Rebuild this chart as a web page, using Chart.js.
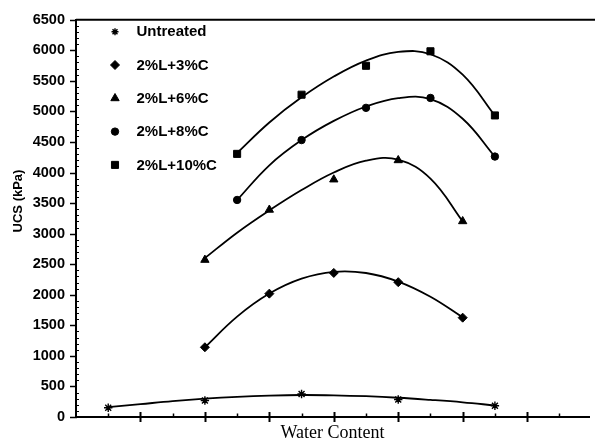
<!DOCTYPE html>
<html><head><meta charset="utf-8">
<script src="https://cdn.jsdelivr.net/npm/chart.js@4/dist/chart.umd.min.js"></script>
<style>html,body{margin:0;padding:0;background:#fff;overflow:hidden}canvas{display:block}</style>
</head><body>
<canvas id="c" width="595" height="444"></canvas>
<script>
// ---- data ----
const seriesNames = ['Untreated', '2%L+3%C', '2%L+6%C', '2%L+8%C', '2%L+10%C'];

const waterUntreated = [0.5, 2, 3.5, 5, 6.5];
const ucsUntreated   = [152, 270, 377, 286, 184];

const water3C6C = [2, 3, 4, 5, 6];
const ucs3C     = [1141, 2018, 2357, 2206, 1625];
const ucs6C     = [2570, 3390, 3885, 4200, 3202];

const water8C10C = [2.5, 3.5, 4.5, 5.5, 6.5];
const ucs8C      = [3551, 4531, 5058, 5220, 4261];
const ucs10C     = [4305, 5273, 5746, 5983, 4934];

// trend curves
const trendWaterUntreated = [0.5, 1, 1.5, 2, 2.5, 3, 3.5, 4, 4.5, 5, 5.5, 6, 6.5];
const trendUntreated      = [160, 210, 260, 300, 330, 350, 360, 355, 340, 315, 280, 240, 190];

const trendWater3C6C = [2, 2.5, 3, 3.5, 4, 4.5, 5, 5.5, 6];
const trend3C        = [1140, 1643, 2020, 2264, 2375, 2356, 2215, 1967, 1630];
const trend6C        = [2600, 3016, 3380, 3713, 4000, 4194, 4210, 3900, 3200];

const trendWater8C10C = [2.5, 3, 3.5, 4, 4.5, 5, 5.5, 6, 6.5];
const trend8C         = [3550, 4118, 4530, 4844, 5080, 5218, 5200, 4880, 4260];
const trend10C        = [4320, 4819, 5230, 5570, 5830, 5973, 5935, 5600, 4930];

const yTickValues = [0, 500, 1000, 1500, 2000, 2500, 3000, 3500, 4000, 4500, 5000, 5500, 6000, 6500];

// ---- build datasets ----
const pair = (xs, ys) => xs.map((x, i) => ({x: x, y: ys[i]}));

const markerDefs = [
  {label: seriesNames[0], xs: waterUntreated, ys: ucsUntreated, style: 'star', r: 4.2},
  {label: seriesNames[1], xs: water3C6C, ys: ucs3C, style: 'rectRot', r: 4.5},
  {label: seriesNames[2], xs: water3C6C, ys: ucs6C, style: 'triangle', r: 4.8},
  {label: seriesNames[3], xs: water8C10C, ys: ucs8C, style: 'circle', r: 3.7},
  {label: seriesNames[4], xs: water8C10C, ys: ucs10C, style: 'rect', r: 5}
];
const trendDefs = [
  [trendWaterUntreated, trendUntreated],
  [trendWater3C6C, trend3C],
  [trendWater3C6C, trend6C],
  [trendWater8C10C, trend8C],
  [trendWater8C10C, trend10C]
];

const datasets = [];
markerDefs.forEach(m => datasets.push({
  label: m.label,
  data: pair(m.xs, m.ys),
  showLine: false,
  pointStyle: m.style,
  pointRadius: m.r,
  pointHoverRadius: m.r,
  pointBackgroundColor: '#000',
  pointBorderColor: '#000',
  pointBorderWidth: m.style === 'star' ? 1.4 : 1,
  isMarker: true
}));
trendDefs.forEach(t => datasets.push({
  label: 'trend',
  data: pair(t[0], t[1]),
  showLine: true,
  tension: 0.4,
  borderColor: '#000',
  borderWidth: 1.8,
  pointRadius: 0,
  fill: false
}));

const decor = {
  id: 'decor',
  afterDraw(chart) {
    const ctx = chart.ctx;
    const xs = chart.scales.x, ys = chart.scales.y;
    const a = chart.chartArea;
    ctx.save();
    ctx.strokeStyle = '#000';
    ctx.fillStyle = '#000';
    // top frame line
    ctx.lineWidth = 2;
    ctx.beginPath();
    ctx.moveTo(a.left, a.top);
    ctx.lineTo(chart.width, a.top);
    ctx.stroke();
    // x axis ticks
    for (let v = 0.5; v < xs.max; v += 0.5) {
      const px = Math.round(xs.getPixelForValue(v)) + 0.5;
      const major = Math.abs(v - Math.round(v)) < 1e-6;
      ctx.lineWidth = major ? 2 : 1.5;
      ctx.beginPath();
      if (major) { ctx.moveTo(px, a.bottom - 5); ctx.lineTo(px, a.bottom + 5); }
      else { ctx.moveTo(px, a.bottom - 3.5); ctx.lineTo(px, a.bottom); }
      ctx.stroke();
    }
    // y axis ticks
    for (let v = 0; v <= ys.max; v += 100) {
      const py = Math.round(ys.getPixelForValue(v)) + 0.5;
      const major = v % 500 === 0;
      ctx.lineWidth = major ? 1.5 : 1;
      ctx.beginPath();
      if (major) { ctx.moveTo(a.left - 6, py); ctx.lineTo(a.left + 1, py); }
      else { ctx.moveTo(a.left, py); ctx.lineTo(a.left + 3, py); }
      ctx.stroke();
    }
    // y axis title
    ctx.save();
    ctx.translate(18, 201);
    ctx.rotate(-Math.PI / 2);
    ctx.font = 'bold 13px "Liberation Sans", Arial, sans-serif';
    ctx.textAlign = 'center';
    ctx.textBaseline = 'middle';
    ctx.fillText('UCS (kPa)', 0, 0);
    ctx.restore();
    // legend
    ctx.font = 'bold 15px "Liberation Sans", Arial, sans-serif';
    ctx.textAlign = 'left';
    ctx.textBaseline = 'middle';
    const markers = chart.data.datasets.filter(d => d.isMarker);
    markers.forEach((d, i) => {
      const y = 31.7 + i * 33.3;
      ctx.lineWidth = d.pointBorderWidth;
      if (Chart.helpers && Chart.helpers.drawPoint) {
        Chart.helpers.drawPoint(ctx, {pointStyle: d.pointStyle, radius: d.pointStyle === 'star' ? 3.5 : d.pointRadius, rotation: 0, borderWidth: d.pointBorderWidth}, 115, y);
      } else {
        ctx.beginPath(); ctx.arc(115, y, 3.5, 0, Math.PI * 2); ctx.fill();
      }
      ctx.fillText(d.label, 136.5, y + 0.5);
    });
    ctx.restore();
  }
};

new Chart(document.getElementById('c'), {
  type: 'scatter',
  data: {datasets: datasets},
  options: {
    responsive: false,
    animation: false,
    devicePixelRatio: 1,
    layout: {padding: {top: 13, left: 0, right: 0, bottom: 0}},
    plugins: {legend: {display: false}, tooltip: {enabled: false}},
    scales: {
      x: {
        type: 'linear', min: 0, max: 7.96,
        ticks: {display: false, stepSize: 0.5},
        grid: {display: false, drawTicks: false},
        border: {display: true, color: '#000', width: 2},
        title: {display: true, text: 'Water Content', color: '#000',
          font: {family: '"Liberation Serif", "Times New Roman", serif', size: 18, weight: 'normal'},
          padding: {top: 0, bottom: 0}},
        afterFit: s => { s.height = 27; }
      },
      y: {
        type: 'linear', min: 0, max: 6500,
        afterBuildTicks: s => { s.ticks = yTickValues.map(v => ({value: v})); },
        ticks: {color: '#000', padding: 11,
          callback: v => String(v),
          font: {family: '"Liberation Sans", Arial, sans-serif', size: 14.5, weight: 'bold'}},
        grid: {display: false, drawTicks: false},
        border: {display: true, color: '#000', width: 2},
        afterFit: s => { s.width = 76; }
      }
    }
  },
  plugins: [decor]
});
</script>
</body></html>
